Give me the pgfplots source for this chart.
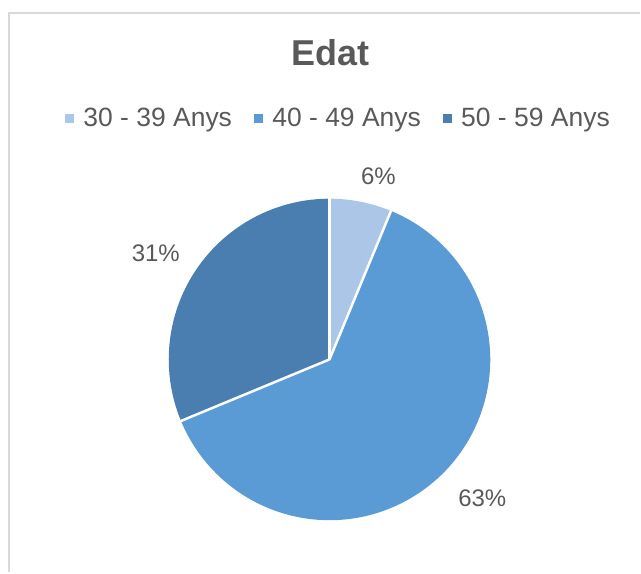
\documentclass[border=0pt]{standalone}
\usepackage{fontspec}
\setmainfont{Liberation Sans}
\usepackage{pgfplots}
\usepackage{pgfplotstable}
\pgfplotsset{compat=1.18}
\definecolor{cA}{HTML}{ABC6E6}
\definecolor{cB}{HTML}{5B9BD5}
\definecolor{cC}{HTML}{4A7EB1}
\definecolor{txt}{HTML}{595959}
\definecolor{frm}{HTML}{D9D9D9}
\pgfplotstableread[col sep=comma]{
idx,count
0,1
1,10
2,5
}\agedata
\begin{document}%
\begin{tikzpicture}
\pgfplotstablegetelem{0}{count}\of\agedata\let\va\pgfplotsretval
\pgfplotstablegetelem{1}{count}\of\agedata\let\vb\pgfplotsretval
\pgfplotstablegetelem{2}{count}\of\agedata\let\vc\pgfplotsretval
\pgfmathsetmacro\tot{\va+\vb+\vc}
\pgfmathsetmacro\aZ{90}
\pgfmathsetmacro\aA{90-360*\va/\tot}
\pgfmathsetmacro\aB{\aA-360*\vb/\tot}
\pgfmathsetmacro\aC{\aB-360*\vc/\tot}
\def\R{161pt}
\begin{axis}[
  width=641pt, height=573pt, scale only axis,
  xmin=0, xmax=641, ymin=0, ymax=573,
  enlargelimits=false, hide axis, clip=false,
  legend columns=3,
  legend style={at={(65/641,455/573)}, anchor=west, draw=none, fill=none,
    font=\fontsize{26.5}{31}\selectfont\color{txt}, inner sep=0pt,
    nodes={inner sep=0pt},
    /tikz/every odd column/.append style={column sep=10pt},
    /tikz/every even column/.append style={column sep=22pt}},
]
\path (axis cs:0,0) rectangle (axis cs:641,573);
\draw[frm, line width=2pt] (axis cs:9,0) -- (axis cs:9,560) -- (axis cs:641,560);
\addlegendimage{legend image code/.code={\fill[cA] (0pt,-4pt) rectangle (8pt,4pt);}}
\addlegendentry{30 - 39 Anys}
\addlegendimage{legend image code/.code={\fill[cB] (0pt,-4pt) rectangle (8pt,4pt);}}
\addlegendentry{40 - 49 Anys}
\addlegendimage{legend image code/.code={\fill[cC] (0pt,-4pt) rectangle (8pt,4pt);}}
\addlegendentry{50 - 59 Anys}
\fill[cA] (axis cs:330,213) -- ++(\aZ:\R) arc[start angle=\aZ, end angle=\aA, radius=\R] -- cycle;
\fill[cB] (axis cs:330,213) -- ++(\aA:\R) arc[start angle=\aA, end angle=\aB, radius=\R] -- cycle;
\fill[cC] (axis cs:330,213) -- ++(\aB:\R) arc[start angle=\aB, end angle=\aC, radius=\R] -- cycle;
\draw[white, line width=2.5pt] (axis cs:330,213) -- ++(\aZ:\R+1pt);
\draw[white, line width=2.5pt] (axis cs:330,213) -- ++(\aA:\R+1pt);
\draw[white, line width=2.5pt] (axis cs:330,213) -- ++(\aB:\R+1pt);
\node[txt, font=\fontsize{36}{40}\selectfont\bfseries] at (axis cs:331,520) {Edat};
\node[txt, font=\fontsize{24}{28}\selectfont] at (axis cs:379,396) {6\%};
\node[txt, font=\fontsize{24}{28}\selectfont] at (axis cs:156,319) {31\%};
\node[txt, font=\fontsize{24}{28}\selectfont] at (axis cs:483,74) {63\%};
\end{axis}
\end{tikzpicture}%
\end{document}
